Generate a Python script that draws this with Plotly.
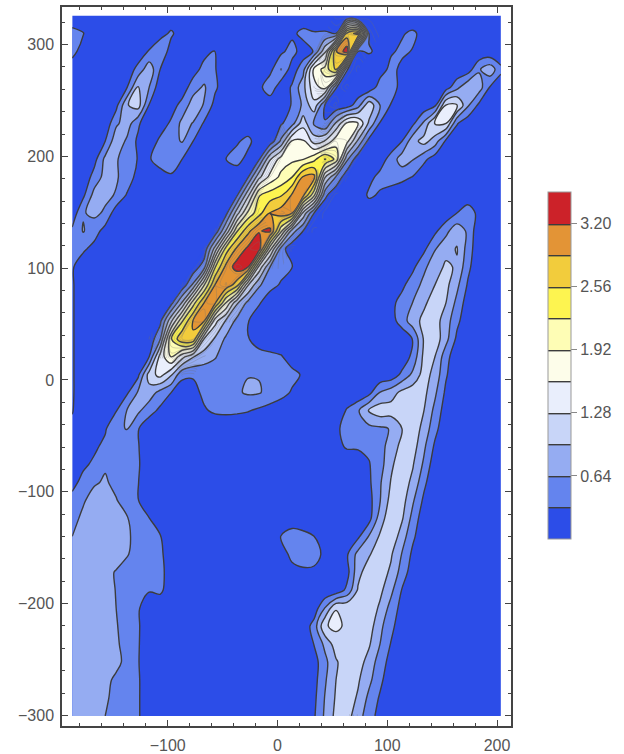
import numpy as np
import plotly.graph_objects as go

# values in hundredths; top row first, left column first
x_first, x_last, n_cols = -187.0, 203.5, 40
y_top, y_bottom, n_rows = 326.0, -300.5, 40

r00 = [5,5,5,5,5,5,5,5,5,5, 5,5,5,5,5,5,5,5,5,5, 5,5,5,5,5,-30,-60,5,5,5, 5,5,5,5,5,5,5,5,5,5]
r01 = [45,34,8,5,5,5,5,5,18,38, 12,5,5,5,5,5,5,5,5,5, 24,42,35,36,32,270,300,26,5,5, 29,38,20,5,5,5,5,5,5,5]
r02 = [45,15,5,5,5,5,10,35,62,15, 5,5,20,34,5,5,5,5,5,25, 45,15,34,120,285,340,28,36,22,28, 38,30,5,5,5,5,5,5,5,5]
r03 = [10,5,5,5,5,12,43,85,32,8, 5,15,45,34,8,5,5,5,22,65, 15,50,170,205,262,34,5,5,15,42, 24,5,5,5,5,5,15,60,85,40]
r04 = [5,5,5,5,8,32,98,64,10,5, 10,52,68,38,10,5,5,22,55,10, 36,85,150,170,34,5,5,5,50,45, 22,5,5,5,15,55,90,80,30,10]
r05 = [5,5,5,5,22,94,110,30,8,15, 45,78,62,20,5,5,5,5,5,10, 35,70,118,28,5,15,50,120,64,30, 8,5,10,25,130,132,68,25,5,5]
r06 = [5,5,5,8,58,80,38,5,12,38, 72,63,28,8,5,5,5,5,5,28, 50,115,58,33,100,165,160,90,30,5, 8,25,70,132,130,35,10,5,5,5]
r07 = [5,5,5,32,85,58,25,10,40,55, 66,32,8,5,5,28,42,10,10,70, 165,165,115,130,180,170,90,20,5,8, 32,85,108,80,25,5,5,5,5,5]
r08 = [5,5,20,72,67,50,30,28,52,48, 32,8,5,8,32,45,20,28,125,175, 185,190,215,258,215,70,10,5,15,45, 80,66,40,15,5,5,5,5,5,5]
r09 = [5,8,45,75,67,52,18,5,12,28, 10,5,5,5,25,8,30,120,170,200, 224,292,300,130,60,8,5,22,42,58, 42,30,8,5,5,5,5,5,5,5]
r10 = [5,25,75,70,62,28,5,5,5,5, 5,5,5,5,5,28,120,222,240,252, 292,298,200,40,5,5,8,38,28,5, 5,5,5,5,5,5,5,5,5,5]
r11 = [10,62,70,60,12,5,5,5,5,5, 5,5,5,5,22,115,200,245,288,305, 290,120,32,5,5,5,5,5,5,5, 5,5,5,5,10,32,55,20,5,5]
r12 = [38,66,48,18,5,5,5,5,5,5, 5,5,5,8,100,222,280,318,326,200, 80,32,5,5,5,5,5,5,5,5, 5,5,5,25,55,85,58,8,5,5]
r13 = [38,38,20,5,5,5,5,5,5,5, 5,5,8,110,240,296,328,338,170,50, 5,5,5,5,5,5,5,5,5,5, 5,8,25,62,85,98,50,8,5,5]
r14 = [36,10,5,5,5,5,5,5,5,5, 5,10,50,222,298,336,322,150,64,45, 35,8,5,5,5,5,5,5,5,5, 8,25,58,80,102,92,40,8,5,5]
r15 = [36,10,5,5,5,5,5,5,5,5, 8,70,190,290,312,270,130,68,45,28, 5,5,5,5,5,5,5,5,5,8, 24,50,72,96,105,72,28,5,5,5]
r16 = [36,10,5,5,5,5,5,5,5,20, 100,210,289,293,190,100,55,36,8,5, 5,5,5,5,5,5,5,5,8,22, 45,65,90,112,96,55,15,5,5,5]
r17 = [36,10,5,5,5,5,5,5,22,120, 220,290,292,140,92,55,34,8,5,5, 5,5,5,5,5,5,5,5,5,18, 48,82,105,110,80,40,10,5,5,5]
r18 = [36,10,5,5,5,5,5,8,60,222, 284,286,128,92,58,45,34,15,5,5, 5,5,5,5,5,5,5,5,5,5, 8,34,100,115,75,25,5,5,5,5]
r19 = [36,10,5,5,5,5,5,32,140,194, 140,98,78,66,50,48,46,45,42,35, 15,5,5,5,5,5,5,5,5,5, 8,42,105,96,45,8,5,5,5,5]
r20 = [36,10,5,5,5,8,25,110,140,100, 38,36,45,48,52,58,63,63,58,52, 42,28,8,5,5,5,5,5,5,10, 40,72,110,85,36,5,5,5,5,5]
r21 = [36,10,5,5,8,28,68,82,52,32, 18,20,40,46,50,60,68,66,55,45, 28,8,5,5,5,5,5,22,66,82, 105,115,105,70,25,5,5,5,5,5]
r22 = [34,10,5,8,30,66,70,45,25,10, 5,5,28,38,40,38,34,26,18,8, 5,5,5,5,5,36,60,98,115,110, 105,115,96,55,15,5,5,5,5,5]
r23 = [24,8,10,28,60,65,34,8,5,5, 5,5,5,5,5,5,5,5,5,5, 5,5,5,5,25,45,52,55,58,66, 96,115,85,42,8,5,5,5,5,5]
r24 = [8,8,26,40,44,42,34,8,5,5, 5,5,5,5,5,5,5,5,5,5, 5,5,5,5,22,36,36,38,50,80, 105,110,70,26,5,5,5,5,5,5]
r25 = [5,26,38,60,42,40,36,8,5,5, 5,5,5,5,5,5,5,5,5,5, 5,5,5,5,5,8,15,30,50,90, 115,98,58,12,5,5,5,5,5,5]
r26 = [22,42,60,68,55,42,33,8,5,5, 5,5,5,5,5,5,5,5,5,5, 5,5,5,5,5,5,8,26,60,98, 112,88,40,5,5,5,5,5,5,5]
r27 = [42,60,78,82,66,48,33,8,5,5, 5,5,5,5,5,5,5,5,5,5, 5,5,5,5,5,5,5,20,62,108, 110,68,25,5,5,5,5,5,5,5]
r28 = [52,72,80,82,80,66,48,33,10,5, 5,5,5,5,5,5,5,5,5,20, 15,10,5,5,5,5,5,20,80,118, 100,52,12,5,5,5,5,5,5,5]
r29 = [64,75,80,80,80,68,55,45,34,8, 5,5,5,5,5,5,5,5,8,33, 45,42,32,8,5,5,25,66,100,120, 80,38,8,5,5,5,5,5,5,5]
r30 = [72,78,80,80,76,66,52,46,40,10, 5,5,5,5,5,5,5,5,5,18, 40,50,45,24,5,28,75,92,118,100, 62,24,5,5,5,5,5,5,5,5]
r31 = [75,78,78,72,62,52,48,46,44,12, 5,5,5,5,5,5,5,5,5,5, 22,25,25,8,5,20,85,115,112,90, 50,14,5,5,5,5,5,5,5,5]
r32 = [76,78,78,74,63,55,50,35,40,10, 5,5,5,5,5,5,5,5,5,5, 5,5,5,5,10,40,100,118,104,72, 30,5,5,5,5,5,5,5,5,5]
r33 = [76,78,78,75,64,52,36,8,5,5, 5,5,5,5,5,5,5,5,5,5, 5,5,12,66,127,122,118,118,90,52, 20,5,5,5,5,5,5,5,5,5]
r34 = [76,78,78,76,66,52,36,8,5,5, 5,5,5,5,5,5,5,5,5,5, 5,10,45,125,135,122,118,112,72,42, 10,5,5,5,5,5,5,5,5,5]
r35 = [78,80,80,78,68,54,35,8,5,5, 5,5,5,5,5,5,5,5,5,5, 5,5,33,72,112,116,116,100,64,30, 5,5,5,5,5,5,5,5,5,5]
r36 = [78,80,80,78,72,55,34,8,5,5, 5,5,5,5,5,5,5,5,5,5, 5,5,18,55,92,115,110,84,48,20, 5,5,5,5,5,5,5,5,5,5]
r37 = [76,78,78,72,58,48,36,8,5,5, 5,5,5,5,5,5,5,5,5,5, 5,5,20,60,96,112,100,72,40,10, 5,5,5,5,5,5,5,5,5,5]
r38 = [74,76,76,68,56,46,36,8,5,5, 5,5,5,5,5,5,5,5,5,5, 5,5,24,66,100,112,92,56,28,5, 5,5,5,5,5,5,5,5,5,5]
r39 = [72,74,74,64,54,44,36,8,5,5, 5,5,5,5,5,5,5,5,5,5, 5,5,28,70,105,108,78,46,20,5, 5,5,5,5,5,5,5,5,5,5]

rows = [r00,r01,r02,r03,r04,r05,r06,r07,r08,r09,r10,r11,r12,r13,r14,r15,r16,r17,r18,r19,
        r20,r21,r22,r23,r24,r25,r26,r27,r28,r29,r30,r31,r32,r33,r34,r35,r36,r37,r38,r39]
for i, r in enumerate(rows):
    assert len(r) == n_cols, (i, len(r))

band_colors = ["#2c4de8", "#6484ee", "#95acf2", "#c8d5f8", "#e9eefc", "#fdfdea",
               "#fefdb5", "#fdf450", "#f2cc3c", "#e39436", "#cc2229"]
colorbar_ticks = [0.64, 1.28, 1.92, 2.56, 3.20]
level_start, level_end, level_size = 0.32, 3.2, 0.32
scale_min, scale_max = 0.0, 3.52

Z = np.array(rows[::-1], dtype=float) / 100.0
xs = np.linspace(x_first, x_last, n_cols)
ys = np.linspace(y_bottom, y_top, n_rows)

cs_fill = [[i / 10, c] for i, c in enumerate(band_colors)]
n = len(band_colors)
cs_steps = []
for i, c in enumerate(band_colors):
    cs_steps += [[i / n, c], [(i + 1) / n, c]]

# thin hatch of extra iso-lines only on the steep flanks
gy, gx = np.gradient(Z)
steep = np.hypot(gx, gy) > 1.0
grown = steep.copy()
for axis in (0, 1):
    for shift in (-1, 1):
        grown |= np.roll(steep, shift, axis=axis)
Z_fine = np.where(grown, Z, np.nan)

fig = go.Figure()
fig.add_trace(go.Contour(
    x=xs, y=ys, z=Z, colorscale=cs_fill, autocontour=False, showscale=False,
    contours=dict(start=level_start, end=level_end, size=level_size, coloring="fill"),
    line=dict(color="#3c3c3c", width=1.4, smoothing=1.0),
    hoverinfo="skip",
))
fig.add_trace(go.Contour(
    x=xs, y=ys, z=Z_fine, showscale=False, autocontour=False, connectgaps=False,
    contours=dict(start=0.1, end=3.4, size=0.1, coloring="lines"),
    colorscale=[[0, "#707070"], [1, "#707070"]],
    line=dict(width=0.45, smoothing=1.0),
    opacity=0.65,
    hoverinfo="skip",
))
# colour key only: its cells lie outside the axis ranges
fig.add_trace(go.Contour(
    x=[1000, 1001], y=[1000, 1001], z=[[scale_min, scale_max], [scale_min, scale_max]],
    zmin=scale_min, zmax=scale_max, colorscale=cs_steps, autocontour=False,
    contours=dict(start=level_start, end=level_end, size=level_size, coloring="heatmap"),
    line=dict(color="#3c3c3c", width=1.4),
    hoverinfo="skip",
    colorbar=dict(
        x=(548 - 62) / 449, xanchor="left", xpad=0,
        y=(726 - 365.5) / 719, yanchor="middle", ypad=0,
        lenmode="pixels", len=347, thicknessmode="pixels", thickness=23,
        tickmode="array", tickvals=colorbar_ticks, tickformat=".2f",
        ticks="outside", ticklen=6, tickcolor="#888888",
        tickfont=dict(family="Liberation Sans", size=16, color="#555555"),
        outlinecolor="#999999", outlinewidth=1,
    ),
))

axis_common = dict(
    showgrid=False, zeroline=False, showline=True, mirror="allticks", automargin=False,
    linecolor="#444444", linewidth=1.5,
    ticks="inside", ticklen=6, tickwidth=1.3, tickcolor="#444444",
    tickfont=dict(family="Liberation Sans", size=16, color="#555555"),
    dtick=100,
    minor=dict(dtick=20, ticks="inside", ticklen=3, tickwidth=1, tickcolor="#444444"),
)
fig.update_xaxes(range=[-196.3, 212.7], tick0=0, ticklabelstandoff=4, **axis_common)
fig.update_yaxes(range=[-309.5, 333.6], tick0=0, ticklabelstandoff=3, **axis_common)
fig.update_layout(
    width=624, height=754, autosize=False,
    margin=dict(l=62, r=113, t=7, b=28, autoexpand=False),
    paper_bgcolor="white", plot_bgcolor="white", showlegend=False,
)
fig.write_html("out.html", config=dict(displayModeBar=False),
               post_script="document.body.style.margin='0';")
